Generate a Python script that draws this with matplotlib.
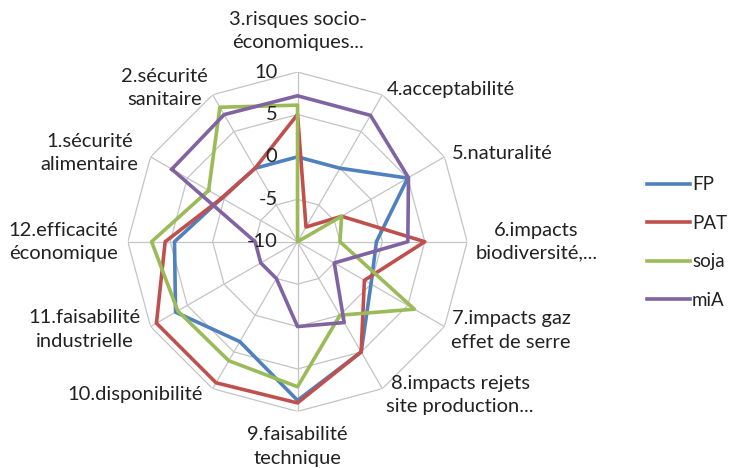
import numpy as np
import matplotlib
matplotlib.use("Agg")
import matplotlib.pyplot as plt

plt.rcParams["font.family"] = ["Lato", "DejaVu Sans"]

categories = [
    "1.sécurité\nalimentaire",
    "2.sécurité\nsanitaire",
    "3.risques socio-\néconomiques...",
    "4.acceptabilité",
    "5.naturalité",
    "6.impacts\nbiodiversité,...",
    "7.impacts gaz\neffet de serre",
    "8.impacts rejets\nsite production...",
    "9.faisabilité\ntechnique",
    "10.disponibilité",
    "11.faisabilité\nindustrielle",
    "12.efficacité\néconomique",
]
FP = [0.3, 0, 0, 0, 5, -0.7, 0, 5, 8.7, 3.6, 6.6, 4.5]
PAT = [0.3, 0, 5, -8, -4, 5, -0.9, 5, 9, 9.2, 9.2, 5.6]
soja = [2.1, 8.3, 6.1, -10, -4, -5, 5.9, 0, 7.1, 6.2, 6.3, 7.2]
miA = [7.1, 7.3, 7.2, 7.2, 5.1, 3, -5, 1, 0, -5, -5, -5]
ticks = [-10, -5, 0, 5, 10]

series = {"FP": FP, "PAT": PAT, "soja": soja, "miA": miA}
colors = {"FP": "#4F81BD", "PAT": "#C0504D", "soja": "#9BBB59", "miA": "#8064A2"}

# label offsets in pixels from each outer vertex, and horizontal alignment
label_pos = [
    (-12, 4, "right"), (-5, 7, "right"), (0, 41, "center"), (4, 5, "left"),
    (7, 3, "left"), (8, 0, "left"), (7, -4, "left"), (4, -6, "left"),
    (0, -35, "center"), (-10, -6, "right"), (-10, -3, "right"), (-10, 0, "right"),
]

n = len(categories)
theta = np.arange(n) * 2 * np.pi / n
closed = np.append(theta, theta[0])

fig = plt.figure(figsize=(7.33, 4.68), dpi=100)
ax = fig.add_axes([0.1744, 0.1209, 0.463, 0.7252], projection="polar")
ax.set_theta_offset(np.deg2rad(150))
ax.set_theta_direction(-1)
ax.set_ylim(-10, 10)
ax.grid(False)
ax.spines["polar"].set_visible(False)
ax.set_xticks([])
ax.set_yticks([])
ax.patch.set_alpha(0)

grid_kw = dict(color="#c4c4c4", lw=0.9, zorder=1)
for lvl in ticks[1:]:
    ax.plot(closed, [lvl] * (n + 1), **grid_kw)
for t in theta:
    ax.plot([t, t], [-10, 10], **grid_kw)

for name, vals in series.items():
    ax.plot(closed, vals + vals[:1], color=colors[name], lw=2.6, label=name,
            solid_joinstyle="round", zorder=3)

# scale labels alongside the top axis
for lvl in ticks:
    ax.annotate(str(lvl), xy=(theta[2], lvl), xytext=(-20, 0),
                textcoords="offset pixels", ha="right", va="center",
                fontsize=14.5, color="#222222")

for t, lab, (dx, dy, ha) in zip(theta, categories, label_pos):
    ax.annotate(lab, xy=(t, 10), xytext=(dx, dy), textcoords="offset pixels",
                ha=ha, va="center", multialignment="center",
                fontsize=14.5, color="#222222", linespacing=1.45,
                annotation_clip=False)

fig.legend(loc="center left", bbox_to_anchor=(647 / 733, 1 - 242.5 / 468),
           frameon=False, fontsize=13.5, handlelength=2.3, handletextpad=0.1,
           labelspacing=1.15, borderpad=0, borderaxespad=0,
           labelcolor="#222222")

fig.savefig("out.png", dpi=100)
